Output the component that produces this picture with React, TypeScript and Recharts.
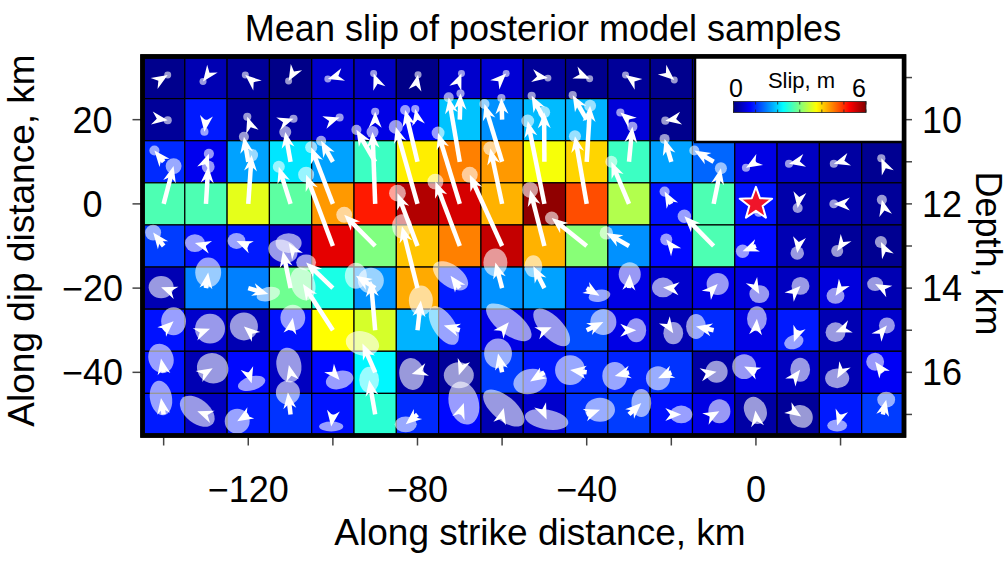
import React from 'react';
import { ScatterChart, Scatter, XAxis, YAxis } from 'recharts';

// fault patch grid (km), rows listed from top (shallow) to bottom (deep)
const xCenters = [-140, -130, -120, -110, -100, -90, -80, -70, -60, -50, -40, -30, -20, -10, 0, 10, 20, 30];
const yCenters = [30, 20, 10, 0, -10, -20, -30, -40, -50];

// mean slip magnitude, m
const slip = [
    [0.08, 0.3, 0.15, 0.05, 0.45, 0.38, 0.05, 0.45, 0.5, 0.15, 0.08, 0.15, 0.08, 0.2, 0.2, 0.2, 0.2, 0.2],
    [0.15, 0.9, 0.15, 0.22, 0.52, 0.6, 0.8, 1.9, 1.6, 1.85, 1.8, 0.52, 0.08, 0.2, 0.2, 0.2, 0.2, 0.2],
    [1.0, 0.65, 1.7, 2.1, 1.7, 2.6, 3.85, 4.5, 4.35, 3.7, 4.0, 2.6, 1.7, 1.35, 0.6, 0.4, 0.2, 0.1],
    [2.7, 2.7, 3.6, 2.8, 4.35, 5.1, 5.7, 5.5, 4.2, 5.9, 4.8, 3.3, 0.85, 2.7, 0.85, 0.25, 0.25, 0.15],
    [1.1, 0.85, 0.9, 0.45, 5.4, 3.0, 4.1, 4.5, 5.6, 4.2, 3.05, 1.6, 0.8, 2.7, 0.8, 0.3, 0.15, 0.1],
    [0.3, 1.5, 1.5, 2.9, 2.4, 1.6, 4.25, 0.9, 1.6, 1.7, 1.0, 0.6, 0.45, 0.6, 0.55, 0.38, 0.55, 0.3],
    [0.85, 0.45, 0.3, 0.85, 3.75, 3.5, 1.8, 0.9, 0.6, 0.5, 1.2, 0.6, 0.3, 1.0, 0.6, 0.9, 0.3, 0.45],
    [0.85, 0.3, 0.8, 0.38, 0.8, 2.2, 0.22, 0.15, 1.1, 0.9, 1.0, 0.95, 1.05, 0.22, 0.6, 0.38, 0.3, 0.7],
    [0.9, 0.38, 0.9, 1.05, 0.85, 2.5, 1.0, 0.8, 0.3, 0.45, 1.05, 1.1, 0.85, 0.6, 0.22, 0.15, 0.9, 1.1],
];

// mean slip vector components (along strike, up dip), m
const slipStrike = [
    [0.29, -0.21, -0.21, -0.14, -0.36, -0.11, 0.04, 0.12, 0.29, 0.25, 0.21, -0.25, 0.21, 0.2, -0.2, 0.1, -0.1, 0.2],
    [0.29, -0.11, -0.07, 0.21, 0.48, 0, -0.16, 0.05, -0.05, -0.91, -1.0, -0.62, -0.43, 0.1, -0.2, 0.2, -0.1, 0.1],
    [-0.66, 0.21, -0.31, -0.38, -0.84, -1.34, -0.88, -0.79, -1.26, -0.02, 0.24, 0.24, -0.48, -1.38, -0.71, -0.66, -0.48, -0.11],
    [0.71, 0.16, 0.24, -0.84, -1.55, -0.19, -1.55, -1.55, -0.84, -1.19, -0.84, -1.26, -0.48, 0.52, 0.21, -0.04, -0.48, -0.07],
    [-0.75, -0.79, -0.84, -0.14, -1.91, -2.21, -1.43, -1.74, -2.31, -1.02, -2.5, -1.62, -0.36, -2.09, -0.95, -0.07, -0.24, -0.14],
    [-0.18, 0.16, 1.43, -0.55, -1.91, -1.38, -1.11, -0.66, -0.48, -0.79, 0.91, 0.05, -0.59, 0.29, 0.24, 0.16, -0.36, -0.55],
    [0.71, 0.29, -0.31, 0.16, -2.14, -0.31, 0.24, -1.14, 0.48, 0.52, 1.19, 0.52, 0.14, -1.26, 0.07, -0.31, -0.36, 0.29],
    [-0.19, 0.48, 0.24, -0.12, 0.48, -0.91, -0.41, -0.07, -0.29, -1.02, -1.19, -1.02, -0.95, 0.21, -0.84, 0.14, -0.24, -0.55],
    [-0.19, -0.62, -0.79, -0.19, -0.12, -0.43, -0.84, 0.29, 0.12, 0.16, 0.95, 0.88, 0.71, 0.41, -0.04, 0.21, -0.24, 0.24],
];
const slipDip = [
    [0.18, -0.29, 0.18, -0.25, -0.11, 0.29, 0.21, 0.29, 0.29, -0.04, -0.09, 0.18, -0.18, 0.1, 0.1, -0.2, -0.2, 0.2],
    [-0.04, -0.86, 0.21, 0.07, 0.16, 0.57, 0.76, 1.88, 1.55, 1.71, 1.76, 0.52, -0.07, 0.2, 0.1, 0.1, 0.2, -0.2],
    [0.81, 0.57, 1.79, 2.14, 1.5, 2.29, 3.71, 4.62, 4.14, 3.55, 4.02, 2.52, 1.64, 0.81, -0.43, -0.14, -0.14, 0.25],
    [2.71, 2.66, 3.5, 2.66, 4.07, 5.16, 5.52, 5.09, 3.98, 5.95, 4.86, 3.02, 0.88, 2.55, -0.57, -0.29, 0, 0.29],
    [0.96, 0.21, 0.36, 0.21, 5.12, 2.24, 3.79, 4.62, 5.11, 4.02, 2.0, 0.94, 0.46, 2.13, -0.38, -0.5, -0.36, 0.29],
    [0.07, 1.12, -0.43, 2.66, 1.84, 0.88, 4.43, 0.88, 1.84, 1.57, -0.55, 1.0, 0.05, 0.29, -0.43, 0.16, -0.55, 0.29],
    [0.64, 0.11, 0.27, 0.89, 3.32, 3.56, 2.13, 0.34, 0.57, 0.21, 0.59, 0, -0.21, 0.27, 0.82, -0.84, -0.14, 0.34],
    [1.0, 0.29, -0.79, 0.52, -0.55, 2.07, -0.12, -0.21, 1.36, -0.66, 0.16, -0.26, -0.43, 0.04, 0.41, 0.18, -0.43, 0.76],
    [1.18, 0.23, -0.49, 1.57, -0.86, 2.48, -0.71, 0.82, 0.46, -0.36, 0.34, 0.82, 0, 0.23, 0.29, -0.14, -0.8, 1.06],
];

// uncertainty ellipse at the arrow tip: semi-axes (m) and orientation (deg)
const errMajor = [
    [0.25, 0.25, 0.25, 0.25, 0.25, 0.25, 0.25, 0.25, 0.25, 0.25, 0.25, 0.25, 0.25, 0.25, 0.25, 0.25, 0.25, 0.25],
    [0.29, 0.29, 0.29, 0.29, 0.29, 0.29, 0.29, 0.29, 0.29, 0.29, 0.29, 0.29, 0.29, 0.29, 0.29, 0.29, 0.29, 0.29],
    [0.36, 0.36, 0.36, 0.43, 0.36, 0.36, 0.36, 0.36, 0.36, 0.43, 0.43, 0.36, 0.36, 0.36, 0.29, 0.29, 0.29, 0.29],
    [0.57, 0.46, 0.46, 0.43, 0.43, 0.43, 0.5, 0.46, 0.5, 0.46, 0.43, 0.43, 0.36, 0.43, 0.36, 0.36, 0.32, 0.36],
    [0.57, 0.71, 0.64, 0.93, 0.57, 0.57, 0.6, 0.57, 0.57, 0.57, 0.48, 0.48, 0.43, 0.48, 0.48, 0.48, 0.43, 0.43],
    [0.89, 1.07, 0.86, 1.07, 0.71, 0.93, 0.86, 1.43, 1.0, 0.79, 0.79, 0.86, 0.79, 0.79, 0.71, 0.64, 0.64, 0.57],
    [1.0, 1.07, 1.0, 0.93, 1.21, 0.93, 1.07, 1.57, 1.93, 1.71, 0.93, 0.86, 0.79, 0.89, 0.89, 0.71, 0.71, 0.57],
    [1.07, 1.14, 1.0, 1.25, 1.0, 1.21, 1.14, 1.07, 1.07, 1.21, 1.07, 1.0, 0.86, 0.79, 0.89, 0.86, 0.86, 0.64],
    [1.25, 1.43, 0.89, 0.86, 0.86, 0.93, 0.79, 1.57, 1.79, 1.57, 1.07, 1.0, 0.79, 0.86, 1.0, 0.86, 0.71, 0.64],
];
const errMinor = [
    [0.25, 0.25, 0.25, 0.25, 0.25, 0.25, 0.25, 0.25, 0.25, 0.25, 0.25, 0.25, 0.25, 0.25, 0.25, 0.25, 0.25, 0.25],
    [0.29, 0.29, 0.29, 0.29, 0.29, 0.29, 0.29, 0.29, 0.29, 0.29, 0.29, 0.29, 0.29, 0.29, 0.29, 0.29, 0.29, 0.29],
    [0.36, 0.36, 0.36, 0.43, 0.36, 0.36, 0.36, 0.36, 0.36, 0.43, 0.43, 0.36, 0.36, 0.36, 0.29, 0.29, 0.29, 0.29],
    [0.57, 0.46, 0.46, 0.43, 0.43, 0.43, 0.5, 0.46, 0.5, 0.46, 0.43, 0.43, 0.36, 0.43, 0.36, 0.36, 0.32, 0.36],
    [0.57, 0.64, 0.57, 0.71, 0.57, 0.57, 0.6, 0.57, 0.57, 0.57, 0.48, 0.48, 0.43, 0.48, 0.48, 0.48, 0.43, 0.43],
    [0.79, 0.93, 0.5, 0.79, 0.57, 0.79, 0.71, 0.79, 0.86, 0.64, 0.43, 0.79, 0.71, 0.79, 0.64, 0.64, 0.57, 0.5],
    [0.89, 1.07, 1.0, 0.89, 0.86, 0.93, 0.86, 0.79, 0.86, 0.79, 0.93, 0.71, 0.71, 0.71, 0.71, 0.5, 0.71, 0.57],
    [0.89, 1.07, 0.5, 0.89, 0.64, 0.86, 0.89, 0.93, 1.0, 0.89, 1.07, 0.89, 0.86, 0.79, 0.86, 0.71, 0.71, 0.64],
    [0.79, 0.86, 0.89, 0.86, 0.36, 0.71, 0.57, 1.07, 0.86, 0.71, 0.86, 0.71, 0.64, 0.79, 0.79, 0.79, 0.43, 0.57],
];
const errAngle = [
    [0, 0, 0, 0, 0, 0, 0, 0, 0, 0, 0, 0, 0, 0, 0, 0, 0, 0],
    [0, 0, 0, 0, 0, 0, 0, 0, 0, 0, 0, 0, 0, 0, 0, 0, 0, 0],
    [0, 0, 0, 0, 0, 0, 0, 0, 0, 0, 0, 0, 0, 0, 0, 0, 0, 0],
    [0, 0, 0, 0, 0, 0, 0, 0, 0, 0, 0, 0, 0, 0, 0, 0, 0, 0],
    [0, 0, 0, 0, 0, 0, 0, 0, 0, 0, 0, 0, 0, 0, 0, 0, 0, 0],
    [0, 90, -15, 20, 0, 90, 90, 35, 90, 90, -10, 90, 0, 0, 0, 0, 0, 0],
    [90, 0, 0, 90, 70, 0, 90, 57, 37, 46, 0, 90, 90, 90, 90, -20, 0, 0],
    [70, 30, -15, 80, -15, 15, 80, 0, 90, -15, 0, 90, 0, 0, 90, 90, 0, 0],
    [80, 38, 0, 0, 0, 90, 0, 75, 40, 10, 0, 90, 0, 90, 65, 40, 0, 0],
];

const hypocenter = [{ x: 0, y: 0 }];
const xTicks = [-140, -120, -100, -80, -60, -40, -20, 0, 20];
const yTicks = [20, 0, -20, -40];
const depthTicks = [9, 10, 11, 12, 13, 14, 15, 16, 17];
const slipRange = [0, 6];
const colorbarTicks = [0, 1, 2, 3, 4, 5, 6];

const X_DOMAIN = [-145, 35];
const Y_DOMAIN = [-55, 35];
const CELL = 10; // km
const DEPTH_AT_ZERO = 12; // km
const DEPTH_PER_KM = 0.1;
const KM_PER_M = 3.31; // arrow length scale

const W = 1008;
const H = 562;
const PLOT_L = 142.5;
const PLOT_R = 904;
const PLOT_T = 56.5;
const PLOT_B = 435.5;
const pxX = (PLOT_R - PLOT_L) / (X_DOMAIN[1] - X_DOMAIN[0]);
const pxY = (PLOT_B - PLOT_T) / (Y_DOMAIN[1] - Y_DOMAIN[0]);

const FONT = '"Liberation Sans", Arial, Helvetica, sans-serif';

const clamp = (v: number) => Math.max(0, Math.min(1, v));
const jet = (t: number) => {
    const r = clamp(1.5 - Math.abs(4 * t - 3));
    const g = clamp(1.5 - Math.abs(4 * t - 2));
    const b = clamp(1.5 - Math.abs(4 * t - 1));
    return `rgb(${Math.round(r * 255)},${Math.round(g * 255)},${Math.round(b * 255)})`;
};

const cells = yCenters.flatMap((y, r) =>
    xCenters.map((x, c) => ({
        x,
        y,
        slip: slip[r][c],
        s: slipStrike[r][c],
        d: slipDip[r][c],
        a: errMajor[r][c],
        b: errMinor[r][c],
        ang: errAngle[r][c],
    }))
);

const frame = [{ x: X_DOMAIN[0], y: Y_DOMAIN[1] }];

const fmt = (v: number) => (v < 0 ? '\u2212' + Math.abs(v) : String(v));

const CellShape = (props: any) => {
    const { cx, cy, payload } = props;
    const w = CELL * pxX;
    const h = CELL * pxY;
    const t = (payload.slip - slipRange[0]) / (slipRange[1] - slipRange[0]);
    return <rect x={cx - w / 2} y={cy - h / 2} width={w} height={h} fill={jet(t)} stroke="#000" strokeWidth={1.2} />;
};

const ArrowShape = (props: any) => {
    const { cx, cy, payload } = props;
    const dx = payload.s * KM_PER_M * pxX;
    const dy = -payload.d * KM_PER_M * pxY;
    const tx = cx + dx;
    const ty = cy + dy;
    const len = Math.hypot(dx, dy) || 0.001;
    const ux = dx / len;
    const uy = dy / len;
    const vx = -uy;
    const vy = ux;
    const L = 16;
    const HW = 6.5;
    const NOTCH = 5;
    const bx = tx - ux * L;
    const by = ty - uy * L;
    const nx = tx - ux * (L - NOTCH);
    const ny = ty - uy * (L - NOTCH);
    const head = `M${tx},${ty} L${bx + vx * HW},${by + vy * HW} L${nx},${ny} L${bx - vx * HW},${by - vy * HW} Z`;
    const rx = payload.a * KM_PER_M * pxX;
    const ry = payload.b * KM_PER_M * pxY;
    return (
        <g>
            {len > L - NOTCH && <line x1={cx} y1={cy} x2={nx + ux} y2={ny + uy} stroke="#fff" strokeWidth={4.5} />}
            <path d={head} fill="#fff" />
            <ellipse cx={tx} cy={ty} rx={rx} ry={ry} transform={`rotate(${payload.ang} ${tx} ${ty})`} fill="#fff" fillOpacity={0.6} />
        </g>
    );
};

const StarShape = (props: any) => {
    const { cx, cy } = props;
    const R = 17;
    const r = 7;
    const pts = [];
    for (let i = 0; i < 10; i++) {
        const rad = i % 2 === 0 ? R : r;
        const a = -Math.PI / 2 + (i * Math.PI) / 5;
        pts.push(`${cx + rad * Math.cos(a)},${cy + rad * Math.sin(a)}`);
    }
    return <polygon points={pts.join(' ')} fill="#f0142a" stroke="#fff" strokeWidth={2} strokeLinejoin="round" />;
};

const FrameShape = (props: any) => {
    const { cx, cy } = props;
    return (
        <rect
            x={cx}
            y={cy}
            width={(X_DOMAIN[1] - X_DOMAIN[0]) * pxX}
            height={(Y_DOMAIN[1] - Y_DOMAIN[0]) * pxY}
            fill="none"
            stroke="#000"
            strokeWidth={4.5}
        />
    );
};

const XTick = (props: any) => {
    const { x, y, payload } = props;
    if (payload.value % 40 !== 0) return <g />;
    return (
        <text x={x} y={y + 56} textAnchor="middle" fontSize={36} fontFamily={FONT} fill="#000">
            {fmt(payload.value)}
        </text>
    );
};

const YTick = (props: any) => {
    const { x, y, payload } = props;
    return (
        <text x={x - 40} y={y + 13} textAnchor="middle" fontSize={36} fontFamily={FONT} fill="#000">
            {fmt(payload.value)}
        </text>
    );
};

const DepthTick = (props: any) => {
    const { x, y, payload } = props;
    const depth = Math.round(DEPTH_AT_ZERO - payload.value * DEPTH_PER_KM);
    if (depth % 2 !== 0) return <g />;
    return (
        <text x={x + 10} y={y + 13} textAnchor="start" fontSize={36} fontFamily={FONT} fill="#000">
            {depth}
        </text>
    );
};

const jetStops = [0, 0.125, 0.375, 0.625, 0.875, 1];

const Overlay = () => {
    const cbL = 733.5;
    const cbW = 132.5;
    const cbT = 101.5;
    const cbH = 11;
    return (
        <svg width={W} height={H} style={{ position: 'absolute', left: 0, top: 0, pointerEvents: 'none' }}>
            <defs>
                <linearGradient id="jetbar" x1="0" x2="1" y1="0" y2="0">
                    {jetStops.map((s) => (
                        <stop key={s} offset={s} stopColor={jet(s)} />
                    ))}
                </linearGradient>
            </defs>
            <text x={543} y={41} textAnchor="middle" fontSize={36} fontFamily={FONT} fill="#000">
                Mean slip of posterior model samples
            </text>
            <text x={540} y={545} textAnchor="middle" fontSize={37} fontFamily={FONT} fill="#000">
                Along strike distance, km
            </text>
            <text x={34} y={240.5} textAnchor="middle" fontSize={37} fontFamily={FONT} fill="#000" transform="rotate(-90 34 240.5)">
                Along dip distance, km
            </text>
            <text x={976} y={253.5} textAnchor="middle" fontSize={36} fontFamily={FONT} fill="#000" transform="rotate(90 976 253.5)">
                Depth, km
            </text>
            <rect x={695} y={PLOT_T} width={PLOT_R - 695} height={142 - PLOT_T} fill="#fff" stroke="#000" strokeWidth={2.5} />
            <rect x={PLOT_L} y={PLOT_T} width={PLOT_R - PLOT_L} height={PLOT_B - PLOT_T} fill="none" stroke="#000" strokeWidth={4.5} />
            <text x={801.5} y={88} textAnchor="middle" fontSize={22} fontFamily={FONT} fill="#000">
                Slip, m
            </text>
            <text x={736} y={97} textAnchor="middle" fontSize={25} fontFamily={FONT} fill="#000">
                {slipRange[0]}
            </text>
            <text x={859} y={97} textAnchor="middle" fontSize={25} fontFamily={FONT} fill="#000">
                {slipRange[1]}
            </text>
            <rect x={cbL} y={cbT} width={cbW} height={cbH} fill="url(#jetbar)" stroke="#222" strokeWidth={0.8} />
            {colorbarTicks.map((v) => {
                const tx = cbL + (cbW * (v - slipRange[0])) / (slipRange[1] - slipRange[0]);
                return (
                    <g key={v}>
                        <line x1={tx} x2={tx} y1={cbT} y2={cbT + 3} stroke="#222" strokeWidth={0.8} />
                        <line x1={tx} x2={tx} y1={cbT + cbH - 3} y2={cbT + cbH} stroke="#222" strokeWidth={0.8} />
                    </g>
                );
            })}
        </svg>
    );
};

const SlipMap: React.FC = () => {
    return (
        <div style={{ position: 'absolute', left: 0, top: 0, width: W, height: H, background: '#fff' }}>
            <ScatterChart width={W} height={H} margin={{ top: PLOT_T, right: 0, bottom: 0, left: 0 }}>
                <XAxis
                    type="number"
                    dataKey="x"
                    domain={X_DOMAIN}
                    ticks={xTicks}
                    interval={0}
                    height={H - PLOT_B}
                    axisLine={false}
                    tickSize={10}
                    tickMargin={0}
                    tickLine={{ stroke: '#444', strokeWidth: 1.5 }}
                    tick={<XTick />}
                />
                <YAxis
                    yAxisId="left"
                    type="number"
                    dataKey="y"
                    domain={Y_DOMAIN}
                    ticks={yTicks}
                    interval={0}
                    width={PLOT_L}
                    axisLine={false}
                    tickSize={10}
                    tickMargin={0}
                    tickLine={{ stroke: '#444', strokeWidth: 1.5 }}
                    tick={<YTick />}
                />
                <YAxis
                    yAxisId="right"
                    orientation="right"
                    type="number"
                    dataKey="y"
                    domain={Y_DOMAIN}
                    ticks={depthTicks.map((d) => (DEPTH_AT_ZERO - d) / DEPTH_PER_KM)}
                    interval={0}
                    width={W - PLOT_R}
                    axisLine={false}
                    tickSize={8}
                    tickMargin={0}
                    tickLine={{ stroke: '#444', strokeWidth: 1.5 }}
                    tick={<DepthTick />}
                />
                <Scatter yAxisId="left" data={cells} shape={<CellShape />} isAnimationActive={false} />
                <Scatter yAxisId="left" data={cells} shape={<ArrowShape />} isAnimationActive={false} />
                <Scatter yAxisId="left" data={hypocenter} shape={<StarShape />} isAnimationActive={false} />
                <Scatter yAxisId="right" data={frame} shape={<FrameShape />} isAnimationActive={false} />
            </ScatterChart>
            <Overlay />
        </div>
    );
};

export default function App() {
    return <SlipMap />;
}
